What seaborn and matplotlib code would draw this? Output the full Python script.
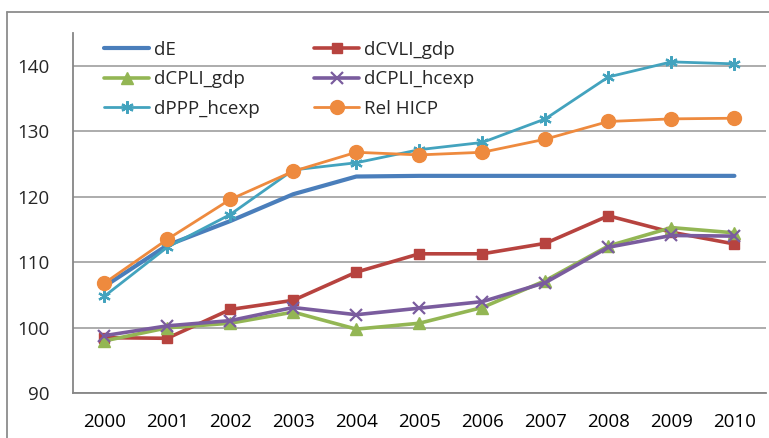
import numpy as np
import pandas as pd
import seaborn as sns
import matplotlib.pyplot as plt
from matplotlib.lines import Line2D

years = ["2000", "2001", "2002", "2003", "2004", "2005",
         "2006", "2007", "2008", "2009", "2010"]

dE = [106.3, 112.6, 116.3, 120.4, 123.1, 123.2, 123.2, 123.2, 123.2, 123.2, 123.2]
dCVLI_gdp = [98.5, 98.4, 102.8, 104.2, 108.5, 111.3, 111.3, 112.9, 117.1, 114.6, 112.8]
dCPLI_gdp = [98.0, 100.0, 100.7, 102.4, 99.8, 100.7, 103.1, 107.2, 112.5, 115.3, 114.5]
dCPLI_hcexp = [98.8, 100.3, 101.1, 103.1, 102.0, 103.0, 104.0, 106.9, 112.3, 114.1, 114.0]
dPPP_hcexp = [104.8, 112.3, 117.3, 124.1, 125.2, 127.2, 128.3, 131.9, 138.3, 140.6, 140.3]
rel_hicp = [106.8, 113.5, 119.6, 123.9, 126.8, 126.4, 126.8, 128.8, 131.5, 131.9, 132.0]

series = [
    ("dE", dE, "#4A7EBB", None, 0, 3.0),
    ("dCVLI_gdp", dCVLI_gdp, "#B7433F", "s", 6.5, 2.6),
    ("dCPLI_gdp", dCPLI_gdp, "#93B654", "^", 8.5, 2.6),
    ("dCPLI_hcexp", dCPLI_hcexp, "#7A5C9E", "x", 9, 2.6),
    ("dPPP_hcexp", dPPP_hcexp, "#43A3BE", (6, 2, 0), 9, 2.0),
    ("Rel HICP", rel_hicp, "#EE8A3E", "o", 10, 2.0),
]

sns.set_style("white")
plt.rcParams["font.family"] = ["Open Sans", "DejaVu Sans"]

fig = plt.figure(figsize=(7.69, 4.38), dpi=100)
ax = fig.add_axes([0.0945, 0.102, 0.9015, 0.8225])

x = np.arange(len(years))
for name, vals, color, marker, ms, lw in series:
    mew = 1.6 if marker in ("x", (6, 2, 0)) else 1.0
    sns.lineplot(x=x, y=vals, ax=ax, color=color, marker=marker, markersize=ms,
                 linewidth=lw, markeredgecolor=color, markeredgewidth=mew,
                 label=name)

ax.set_xlim(-0.5, len(years) - 0.5)
ax.set_ylim(90, 145)
ax.set_yticks([90, 100, 110, 120, 130, 140])
ax.set_xticks(x)
ax.set_xticklabels(years)
ax.set_xticks(np.arange(-0.5, len(years)), minor=True)
ax.tick_params(axis="x", which="major", length=0, pad=14, labelsize=13.5, colors="black")
ax.tick_params(axis="x", which="minor", length=5, width=1.3, color="#868686", direction="out")
ax.tick_params(axis="y", length=5, width=1.3, color="#868686", direction="out",
               pad=12, labelsize=13.5)
ax.yaxis.grid(True, color="#A6A6A6", linewidth=1.3)
ax.set_axisbelow(True)
for s in ["top", "right"]:
    ax.spines[s].set_visible(False)
for s in ["left", "bottom"]:
    ax.spines[s].set_color("#868686")
    ax.spines[s].set_linewidth(1.3)
ax.set_xlabel("")
ax.set_ylabel("")

# legend filled row by row, as in the original
handles, labels = ax.get_legend_handles_labels()
order = [0, 2, 4, 1, 3, 5]
ax.legend([handles[i] for i in order], [labels[i] for i in order],
          ncol=2, loc="upper left", bbox_to_anchor=(0.035, 1.0), frameon=False,
          fontsize=13.5, handlelength=2.4, handletextpad=0.25, columnspacing=2.9,
          labelspacing=0.62, borderaxespad=0)

# outer chart border (left and top edges visible)
fig.add_artist(Line2D([7 / 769, 7 / 769], [0, 1 - 12 / 438], color="#8C8C8C", lw=1.3))
fig.add_artist(Line2D([7 / 769, 1], [1 - 12 / 438, 1 - 12 / 438], color="#8C8C8C", lw=1.3))

fig.savefig("out.png", dpi=100)
